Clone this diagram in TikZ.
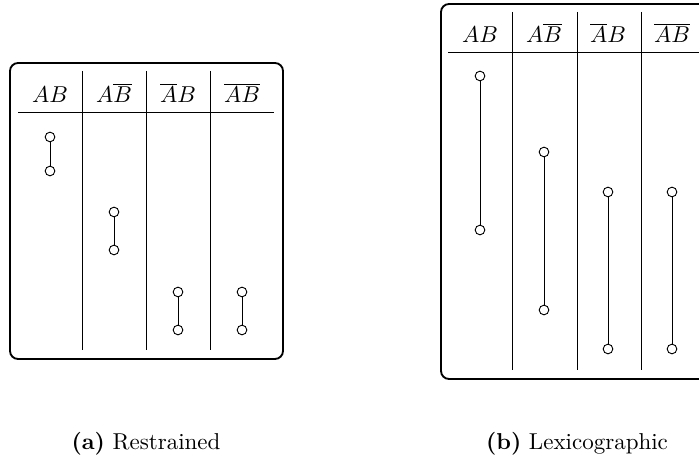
\documentclass[tikz,border=0pt]{standalone}
\begin{document}
\begin{tikzpicture}[x=0.435pt,y=-0.435pt,
  frame/.style={draw,line width=0.8pt,rounded corners=3.5pt},
  sep/.style={line width=0.4pt},
  dot/.style={circle,draw,line width=0.4pt,inner sep=0pt,minimum size=4.2pt,fill=white},
  hdr/.style={anchor=base,inner sep=0pt},
  link/.style={line width=0.4pt},
  captext/.style={inner sep=0pt}]
\useasboundingbox (0,0) rectangle (699,466);
% ---------- (a) Restrained ----------
\draw[frame] (10,63) rectangle (283,359);
\coordinate (ar1) at (18,112); \coordinate (ar2) at (274,112);
\draw[sep] (ar1) -- (ar2);
\foreach \x/\n in {82/1,146/2,210/3}{
  \coordinate (av\n t) at (\x,71); \coordinate (av\n b) at (\x,350);
  \draw[sep] (av\n t) -- (av\n b);
}
\node[hdr] (ah1) at (50,103) {$AB$};
\node[hdr] (ah2) at (114,103) {$A\overline{B}$};
\node[hdr] (ah3) at (178,103) {$\overline{A}B$};
\node[hdr] (ah4) at (242,103) {$\overline{AB}$};
\node[dot] (a1t) at (50,137) {}; \node[dot] (a1b) at (50,171) {};
\node[dot] (a2t) at (114,212) {}; \node[dot] (a2b) at (114,250) {};
\node[dot] (a3t) at (178,292) {}; \node[dot] (a3b) at (178,330) {};
\node[dot] (a4t) at (242,292) {}; \node[dot] (a4b) at (242,330) {};
\draw[link] (a1t) -- (a1b);
\draw[link] (a2t) -- (a2b);
\draw[link] (a3t) -- (a3b);
\draw[link] (a4t) -- (a4b);
\node[captext] (capa) at (146,444) {\textbf{(a)} Restrained};
% ---------- (b) Lexicographic ----------
\draw[frame] (441,4) rectangle (714,379);
\coordinate (br1) at (448,52); \coordinate (br2) at (705,52);
\draw[sep] (br1) -- (br2);
\foreach \x/\n in {512/1,577/2,641/3}{
  \coordinate (bv\n t) at (\x,12); \coordinate (bv\n b) at (\x,370);
  \draw[sep] (bv\n t) -- (bv\n b);
}
\node[hdr] (bh1) at (480,43) {$AB$};
\node[hdr] (bh2) at (544,43) {$A\overline{B}$};
\node[hdr] (bh3) at (608,43) {$\overline{A}B$};
\node[hdr] (bh4) at (672,43) {$\overline{AB}$};
\node[dot] (b1t) at (480,76) {}; \node[dot] (b1b) at (480,230) {};
\node[dot] (b2t) at (544,152) {}; \node[dot] (b2b) at (544,310) {};
\node[dot] (b3t) at (608,192) {}; \node[dot] (b3b) at (608,349) {};
\node[dot] (b4t) at (672,192) {}; \node[dot] (b4b) at (672,349) {};
\draw[link] (b1t) -- (b1b);
\draw[link] (b2t) -- (b2b);
\draw[link] (b3t) -- (b3b);
\draw[link] (b4t) -- (b4b);
\node[captext] (capb) at (577,444) {\textbf{(b)} Lexicographic};
\end{tikzpicture}
\end{document}
